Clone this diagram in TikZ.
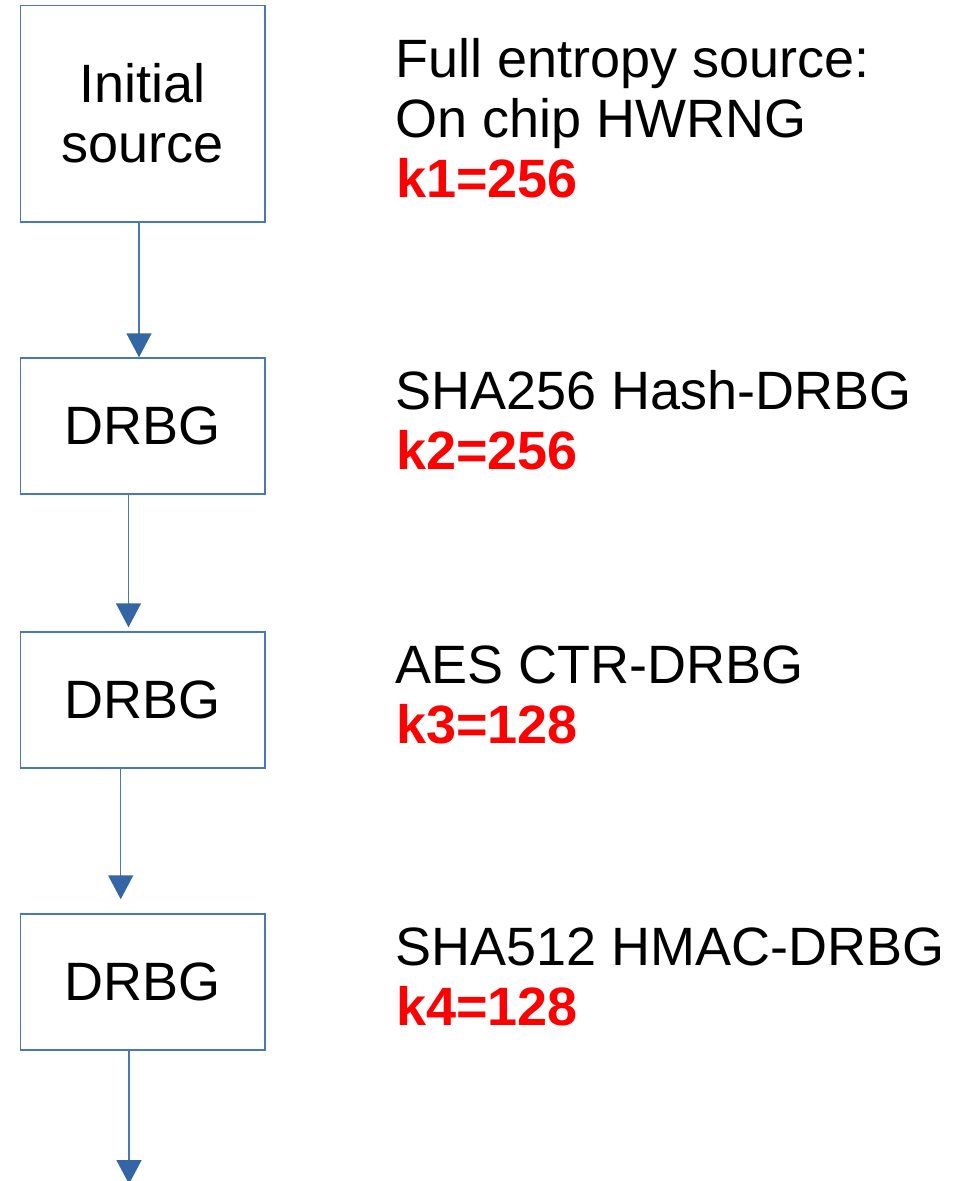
\documentclass[tikz,border=0pt]{standalone}
\usepackage{fontspec}
\setmainfont{Liberation Sans}
\usetikzlibrary{arrows.meta}
\definecolor{edgeblue}{RGB}{72,120,184}
\definecolor{tipblue}{RGB}{52,101,164}
\definecolor{keyred}{RGB}{255,0,0}
\begin{document}
\begin{tikzpicture}[x=1bp,y=-1bp,
  every node/.style={font=\fontsize{54bp}{60bp}\selectfont},
  stage/.style={draw=edgeblue, line width=1.5bp, minimum width=244.3bp,
                inner sep=0pt, align=center, text=black},
  flow/.style={draw=edgeblue, line width=1.5bp,
               -{Triangle[width=25bp,length=24bp,color=tipblue]}},
  desc/.style={anchor=base west, inner sep=0pt, text=black},
  keyval/.style={desc, text=keyred,
                 font=\fontsize{54bp}{60bp}\selectfont\bfseries}]
\useasboundingbox (0,0) rectangle (969,1181);

% generator chain
\node[stage, minimum height=216.5bp] (src) at (142.9,113.5) {Initial\\source};
\node[stage, minimum height=136bp] (d1) at (142.9,426) {DRBG};
\node[stage, minimum height=136bp] (d2) at (142.9,700) {DRBG};
\node[stage, minimum height=136bp] (d3) at (142.9,982) {DRBG};

% vertical lanes of the connectors
\coordinate (lane1) at (139,0);
\coordinate (lane2) at (128.5,0);
\coordinate (lane3) at (120.7,0);
\coordinate (out) at (129,1184);

\draw[flow] (src.south -| lane1) -- (d1.north -| lane1);
\draw[flow, shorten >=4bp] (d1.south -| lane2) -- (d2.north -| lane2);
\draw[flow, shorten >=14bp] (d2.south -| lane3) -- (d3.north -| lane3);
\draw[flow] (d3.south -| out) -- (out);

% descriptions and key strengths
\node[desc] (t1a) at (395,77) {Full entropy source:};
\node[desc] (t1b) at (395,137) {On chip HWRNG};
\node[keyval] (k1) at (396,197) {k1=256};
\node[desc] (t2) at (395,409) {SHA256 Hash-DRBG};
\node[keyval] (k2) at (396,469) {k2=256};
\node[desc] (t3) at (395,683) {AES CTR-DRBG};
\node[keyval] (k3) at (396,743) {k3=128};
\node[desc] (t4) at (395,965) {SHA512 HMAC-DRBG};
\node[keyval] (k4) at (396,1025) {k4=128};
\end{tikzpicture}
\end{document}
